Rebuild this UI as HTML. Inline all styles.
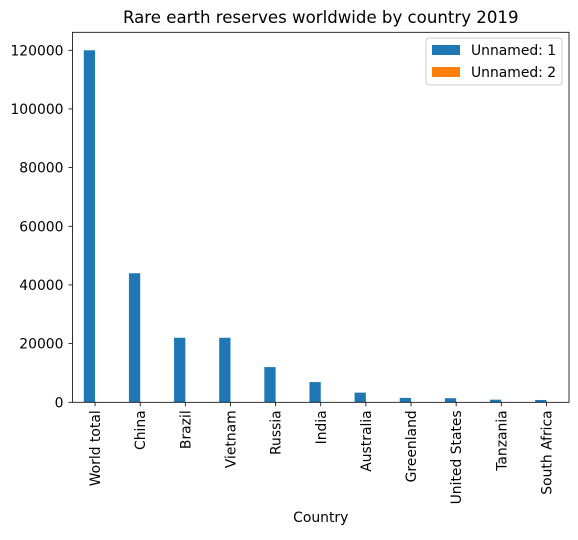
<!DOCTYPE html>
<html><head><meta charset="utf-8"><style>
body{margin:0;background:#fff;font-family:"Liberation Sans","DejaVu Sans",sans-serif}
svg text{font-family:"DejaVu Sans","Liberation Sans",sans-serif;fill:#000}
</style></head><body>
<svg id="chart" width="578" height="535" xmlns="http://www.w3.org/2000/svg"></svg>
<script>
const categories=["World total","China","Brazil","Vietnam","Russia","India","Australia","Greenland","United States","Tanzania","South Africa"];
const series1=[120000,44000,22000,22000,12000,6900,3300,1500,1400,890,790];
const series2=[0,0,0,0,0,0,0,0,0,0,0];
const yTicks=[0,20000,40000,60000,80000,100000,120000];
const svg=document.getElementById('chart');
const NS="http://www.w3.org/2000/svg";
const L=72.5,R=569,T=32.3,B=402.3;
const step=(R-L)/categories.length;
const bw=step*0.25;
const xc=i=>L+step*(i+0.5);
const y=v=>B-v*(352/120000);
function mk(tag,attrs,txt){const e=document.createElementNS(NS,tag);for(const k in attrs)e.setAttribute(k,attrs[k]);if(txt!==undefined)e.textContent=txt;svg.appendChild(e);return e;}
let t=mk('text',{x:(L+R)/2,y:23,'text-anchor':'middle','font-size':'16.6'},'Rare earth reserves worldwide by country 2019');


categories.forEach((c,i)=>{
 let b=mk('rect',{x:xc(i)-bw,y:y(series1[i]),width:bw,height:B-y(series1[i]),fill:'#1f77b4'});
 
 
 let b2=mk('rect',{x:xc(i),y:y(series2[i]),width:bw,height:B-y(series2[i]),fill:'#ff7f0e'});
 
 
 mk('line',{x1:xc(i),x2:xc(i),y1:B,y2:B+4,stroke:'#000','stroke-width':0.8});
 let l=mk('text',{transform:`translate(${xc(i)+5},${B+8}) rotate(-90)`,'text-anchor':'end','font-size':'13.9'},c);
 
 
});
yTicks.forEach(v=>{
 mk('line',{x1:L-4,x2:L,y1:y(v),y2:y(v),stroke:'#000','stroke-width':0.8});
 let l=mk('text',{x:L-9,y:y(v)+5,'text-anchor':'end','font-size':'13.9'},String(v));
 
 
});
let f=mk('rect',{x:L,y:T,width:R-L,height:B-T,fill:'none',stroke:'#000','stroke-width':0.8});


let xt=mk('text',{x:(L+R)/2,y:522,'text-anchor':'middle','font-size':'13.9'},'Country');


let lg=mk('rect',{x:426,y:38,width:136,height:47,fill:'#fff',stroke:'#ccc','stroke-width':1,rx:3});


[['Unnamed: 1','#1f77b4',45],['Unnamed: 2','#ff7f0e',67]].forEach(([n,c,yy])=>{
 mk('rect',{x:432,y:yy,width:28,height:10,fill:c});
 let e=mk('text',{x:471,y:yy+10,'font-size':'13.9'},n);
 
 
});
</script>
</body></html>
